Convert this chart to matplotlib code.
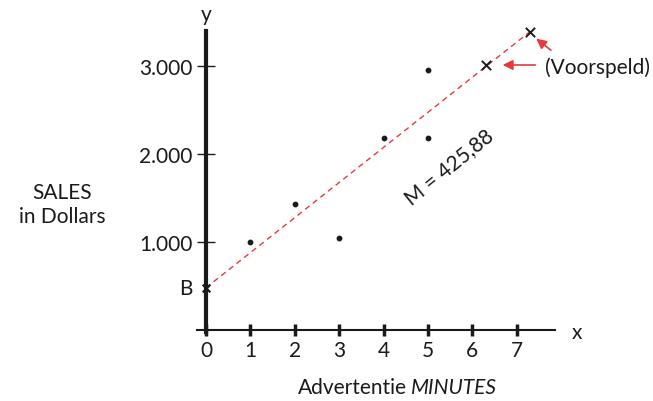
import matplotlib
matplotlib.use('Agg')
import matplotlib.pyplot as plt

# data
minutes = [1, 2, 3, 4, 5, 5]
sales = [1000, 1430, 1045, 2180, 2950, 2180]
intercept = 480
slope_label = 'M = 425,88'
pred_x = [6.3, 7.3]
pred_y = [3010, 3390]
xticks = [0, 1, 2, 3, 4, 5, 6, 7]
yticks = [1000, 2000, 3000]
ytick_labels = ['1.000', '2.000', '3.000']

plt.rcParams['font.family'] = ['Lato', 'DejaVu Sans']
dark = '#1a1a1a'
red = '#e8393a'
fs = 15

fig = plt.figure(figsize=(6.53, 4.02), dpi=100)
ax = fig.add_axes([0, 0, 1, 1])
ax.patch.set_alpha(0)
ax.set_xlim(-4.64, 10.07)
ax.set_ylim(-807, 3761)

for s in ['top', 'right']:
    ax.spines[s].set_visible(False)
ax.spines['left'].set_position(('data', 0))
ax.spines['bottom'].set_position(('data', 0))
ax.spines['left'].set_bounds(-25, 3400)
ax.spines['bottom'].set_bounds(-0.2, 7.86)
ax.spines['left'].set_linewidth(3)
ax.spines['bottom'].set_linewidth(1.5)
ax.spines['left'].set_color(dark)
ax.spines['bottom'].set_color(dark)

ax.set_xticks(xticks)
ax.set_yticks(yticks)
ax.set_yticklabels(ytick_labels)
ax.tick_params(axis='x', direction='inout', length=9, width=2.5, color=dark,
               labelsize=fs, labelcolor=dark, pad=3)
ax.tick_params(axis='y', direction='inout', length=13, width=1, color=dark,
               labelsize=fs, labelcolor=dark, pad=3)

# regression line
ax.plot([0, pred_x[-1]], [intercept, pred_y[-1]], color=red, lw=1,
        linestyle=(0, (4, 3)), zorder=2)

ax.scatter(minutes, sales, s=10, color=dark, zorder=3)
ax.scatter(pred_x, pred_y, marker='x', s=45, color=dark, linewidths=1.4, zorder=3)
ax.scatter([0], [intercept], marker='x', s=30, color=dark, linewidths=1.6, zorder=3,
           clip_on=False)

ax.annotate('', xy=(6.62, 3011), xytext=(7.48, 3011),
            arrowprops=dict(arrowstyle='-|>', color=red, lw=1.2, mutation_scale=15))
ax.annotate('', xy=(7.39, 3330), xytext=(7.82, 3159),
            arrowprops=dict(arrowstyle='-|>', color=red, lw=1.2, mutation_scale=15))
ax.text(7.64, 2990, '(Voorspeld)', fontsize=fs, color=dark, ha='left', va='center')

ax.text(5.47, 1860, slope_label, fontsize=fs, color=dark, rotation=39,
        ha='center', va='center', rotation_mode='anchor')

ax.text(-0.3, 480, 'B', fontsize=fs, color=dark, ha='right', va='center')
ax.text(0, 3591, 'y', fontsize=fs, color=dark, ha='center', va='center')
ax.text(8.36, -23, 'x', fontsize=fs, color=dark, ha='center', va='center')

ax.text(-3.24, 1432, 'SALES\nin Dollars', fontsize=fs, color=dark,
        ha='center', va='center', linespacing=1.25)
ax.text(4.52, -648, 'Advertentie', fontsize=fs, color=dark, ha='right', va='center')
ax.text(4.62, -648, 'MINUTES', fontsize=fs, color=dark, ha='left', va='center',
        style='italic')

fig.savefig('out.png', dpi=100)
